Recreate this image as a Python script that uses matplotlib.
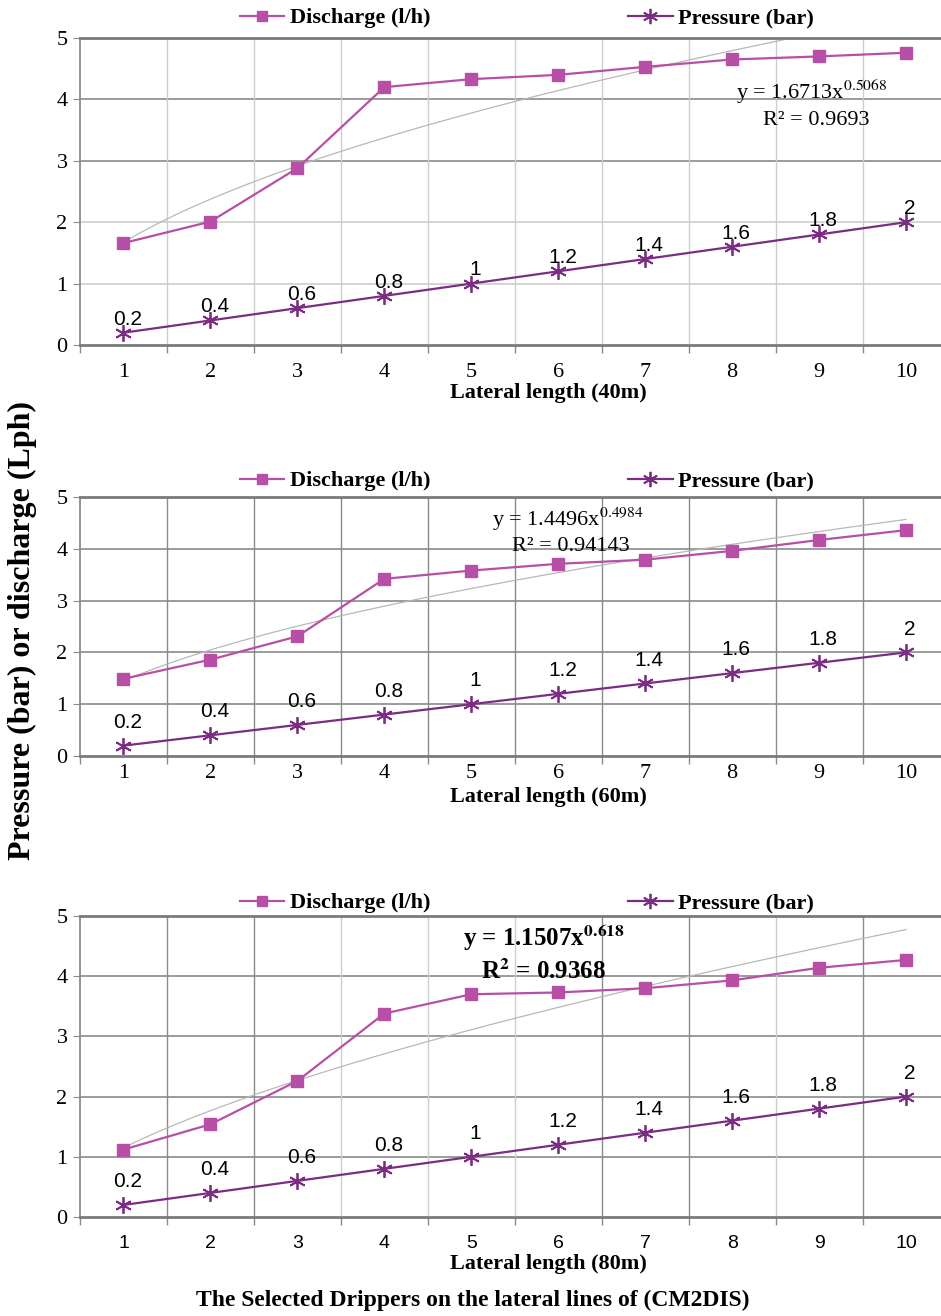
import numpy as np
import matplotlib
matplotlib.use('Agg')
import matplotlib.pyplot as plt
from matplotlib.lines import Line2D

# data
segments = [1, 2, 3, 4, 5, 6, 7, 8, 9, 10]
pressure = [0.2, 0.4, 0.6, 0.8, 1.0, 1.2, 1.4, 1.6, 1.8, 2.0]
pressure_labels = ['0.2', '0.4', '0.6', '0.8', '1', '1.2', '1.4', '1.6', '1.8', '2']

discharge_40 = [1.66, 2.01, 2.88, 4.20, 4.33, 4.40, 4.53, 4.65, 4.70, 4.76]
discharge_60 = [1.49, 1.86, 2.31, 3.42, 3.58, 3.71, 3.79, 3.96, 4.17, 4.36]
discharge_80 = [1.12, 1.54, 2.26, 3.38, 3.70, 3.73, 3.80, 3.93, 4.14, 4.27]

# power trendlines y = a * x^b as printed on the chart
trend_40 = (1.6713, 0.5068, 0.9693)
trend_60 = (1.4496, 0.4984, 0.94143)
trend_80 = (1.1507, 0.618, 0.9368)

lengths = ['40m', '60m', '80m']

c_dis = '#B84FA6'
c_pre = '#7B2C83'
serif = 'Liberation Serif'
sans = 'Liberation Sans'
dark = '#8a8a8a'
light = '#cdcdcd'

fig = plt.figure(figsize=(9.41, 13.16), dpi=100)

W = 941.0
H = 1316.0
left = 80 / W
width = 869.5 / W
# (top px, bottom px) of each panel
panels = [(38, 345), (497, 756), (916, 1217)]

configs = [
    dict(dis=discharge_40, tr=trend_40, vgrid=[light] * 9, hgrid=[light, light, dark, dark],
         tickfont=serif, lbloff=3, eqpos=(8.92, 4.12), r2pos=(8.97, 3.66), bold=False, eqsize=16,
         tickpad=13, xlab=393, leg=18),
    dict(dis=discharge_60, tr=trend_60, vgrid=[dark] * 9, hgrid=[dark] * 4,
         tickfont=serif, lbloff=10, eqpos=(6.11, 4.57), r2pos=(6.14, 4.05), bold=False, eqsize=16,
         tickpad=6, xlab=797, leg=481),
    dict(dis=discharge_80, tr=trend_80,
         vgrid=[dark, dark, light, light, light, dark, dark, light, dark], hgrid=[dark] * 4,
         tickfont=sans, lbloff=10, eqpos=(5.83, 4.64), r2pos=(5.83, 4.08), bold=True, eqsize=18,
         tickpad=13, xlab=1264, leg=903),
]

x = np.array(segments)
xs = np.linspace(1, 10, 200)

for (top, bot), cfg, L in zip(panels, configs, lengths):
    hpx = bot - top
    ax = fig.add_axes([left, 1 - bot / H, width, hpx / H])
    ax.set_xlim(0.5, 10.5)
    ax.set_ylim(0, 5)

    for i, yy in enumerate([1, 2, 3, 4]):
        ax.axhline(yy, color=cfg['hgrid'][i], lw=1.2, zorder=0)
    for i, xb in enumerate(np.arange(1.5, 10.5, 1)):
        ax.axvline(xb, color=cfg['vgrid'][i], lw=1.0, zorder=0)

    a, b, r2 = cfg['tr']
    ax.plot(xs, a * xs ** b, color='#b8b8b8', lw=0.9, zorder=1)

    ax.plot(x, cfg['dis'], color=c_dis, lw=1.6, marker='s', ms=8,
            mfc=c_dis, mec=c_dis, zorder=3)
    ax.plot(x, pressure, color=c_pre, lw=1.6, marker=(6, 2, 0), ms=12,
            mew=1.3, mec=c_pre, zorder=3)

    for xi, yi, t in zip(x, pressure, pressure_labels):
        ax.annotate(t, (xi, yi), xytext=(3, cfg['lbloff']), textcoords='offset points',
                    ha='center', va='bottom', fontsize=15, family=sans)

    if cfg['bold']:
        ax.text(cfg['eqpos'][0], cfg['eqpos'][1], r'y = %.4fx$^{\mathbf{%s}}$' % (a, str(b)),
                ha='center', va='center', fontsize=cfg['eqsize'], family=serif, weight='bold',
                math_fontfamily='stix')
        ax.text(cfg['r2pos'][0], cfg['r2pos'][1], r'R$^{\mathbf{2}}$ = %s' % str(r2),
                ha='center', va='center', fontsize=cfg['eqsize'], family=serif, weight='bold',
                math_fontfamily='stix')
    else:
        ax.text(cfg['eqpos'][0], cfg['eqpos'][1], r'y = %.4fx$^{\mathrm{%s}}$' % (a, str(b)),
                ha='center', va='center', fontsize=cfg['eqsize'], family=serif,
                math_fontfamily='stix')
        ax.text(cfg['r2pos'][0], cfg['r2pos'][1], 'R\u00b2 = %s' % str(r2),
                ha='center', va='center', fontsize=cfg['eqsize'], family=serif)

    for s in ['top', 'bottom']:
        ax.spines[s].set_color('#7a7a7a')
        ax.spines[s].set_linewidth(2.0)
    ax.spines['left'].set_color(dark)
    ax.spines['left'].set_linewidth(1.3)
    ax.spines['right'].set_visible(False)

    ax.set_xticks(segments)
    ax.set_xticks(np.arange(0.5, 11, 1), minor=True)
    ax.tick_params(axis='x', which='major', length=0, pad=cfg['tickpad'])
    ax.tick_params(axis='x', which='minor', length=6, color=dark, width=1)
    ax.set_yticks([0, 1, 2, 3, 4, 5])
    ax.tick_params(axis='y', length=5, color=dark, pad=4)
    for lab in ax.get_xticklabels():
        lab.set_family(cfg['tickfont'])
        lab.set_fontsize(16 if cfg['tickfont'] == serif else 14)
    for lab in ax.get_yticklabels():
        lab.set_family(serif)
        lab.set_fontsize(16)

    ax.set_xlabel('Lateral length (%s)' % L, family=serif, weight='bold', fontsize=16)
    ax.xaxis.label.set_va('center')
    ax.xaxis.set_label_coords(0.539, -(cfg['xlab'] - bot) / hpx)

    handles = [
        Line2D([0], [0], color=c_dis, lw=1.6, marker='s', ms=7),
        Line2D([0], [0], color=c_pre, lw=1.6, marker=(6, 2, 0), ms=11, mew=1.3),
    ]
    ax.legend(handles, ['Discharge (l/h)', 'Pressure (bar)'], loc='center left',
              bbox_to_anchor=(151 / 869.5, 1 + (top - cfg['leg']) / hpx), ncol=2, frameon=False,
              prop=dict(family=serif, weight='bold', size=16),
              handlelength=2.0, handletextpad=0.25, columnspacing=8.9, borderaxespad=0.0)

fig.text(22 / W, 1 - 630 / H, 'Pressure (bar) or discharge (Lph)', rotation=90,
         ha='center', va='center', family=serif, weight='bold', fontsize=23)
fig.text(473 / W, 1 - 1300 / H, 'The Selected Drippers on the lateral lines of (CM2DIS)',
         ha='center', va='center', family=serif, weight='bold', fontsize=17)

fig.savefig('out.png', dpi=100, facecolor='white')
